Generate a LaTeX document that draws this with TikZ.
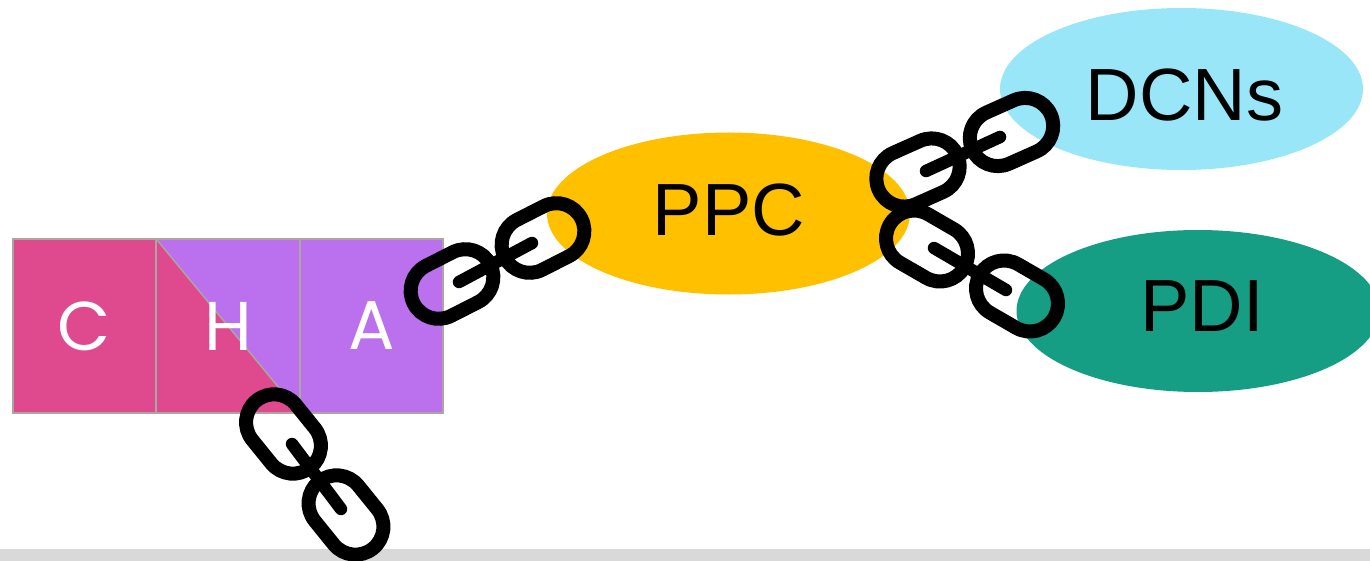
\documentclass[tikz,border=0pt]{standalone}
\usepackage{fontspec}
\setmainfont{Liberation Sans}
\newfontfamily\cellfont{Poppins}
\usepackage{tikz}
\usetikzlibrary{shapes.geometric, shapes.misc}

\definecolor{pinkcell}{HTML}{DF4A8F}
\definecolor{purplecell}{HTML}{BB70EE}
\definecolor{cellline}{HTML}{ADA59F}
\definecolor{ppcfill}{HTML}{FFC000}
\definecolor{dcnfill}{HTML}{99E6F9}
\definecolor{pdifill}{HTML}{169E84}
\definecolor{footer}{HTML}{D9D9D9}

\tikzset{
  blob/.style={ellipse, minimum width=363pt, minimum height=162pt, inner sep=0pt},
  bloblabel/.style={inner sep=0pt, font=\fontsize{74}{80}\selectfont},
  cell/.style={draw=cellline, line width=2pt, minimum width=143.5pt, minimum height=174pt,
    inner sep=0pt, text=white, font=\cellfont\fontsize{69}{74}\selectfont},
  chainlink/.style={draw=black, line width=14pt, rounded rectangle,
    minimum width=86pt, minimum height=56pt, inner sep=0pt},
  chainbar/.style={draw=black, line width=12.5pt, line cap=round}
}

\begin{document}
\begin{tikzpicture}[x=1pt, y=-1pt]
  \useasboundingbox (0,0) rectangle (1370,561);
  \fill[footer] (0,549) rectangle (1370,561);

  \node[blob, fill=ppcfill] (PPC) at (728.5,213.5) {};
  \node[blob, fill=dcnfill] (DCN) at (1181.5,89) {};
  \node[blob, fill=pdifill] (PDI) at (1198,311) {};
  \node[bloblabel] (PPCtext) at (729,210) {PPC};
  \node[bloblabel] (DCNtext) at (1184.5,95) {DCNs};
  \node[bloblabel] (PDItext) at (1202,306) {PDI};

  \node[cell, fill=pinkcell] (C) at (84.5,326) {C};
  \node[cell, fill=purplecell, path picture={
    \fill[pinkcell] (path picture bounding box.north west) -- (path picture bounding box.south west)
      -- (path picture bounding box.south east) -- cycle;
    \draw[cellline, line width=1.5pt] (path picture bounding box.north west) -- (path picture bounding box.south east);
  }] (H) at (228,326) {H};
  \node[cell, fill=purplecell] (A) at (371.5,326) {A};

  % cha to ppc
  \node[chainlink, rotate=27] (La) at (452,284) {};
  \node[chainlink, rotate=27] (Lb) at (543,238) {};
  \coordinate (Ba) at (459,282);
  \coordinate (Bb) at (532,243);
  \draw[chainbar] (Ba) to (Bb);

  % ppc to dcns
  \node[chainlink, rotate=24] (Lc) at (918,172.5) {};
  \node[chainlink, rotate=24] (Ld) at (1011.5,132) {};
  \coordinate (Bc) at (926,171);
  \coordinate (Bd) at (1000,137);
  \draw[chainbar] (Bc) to (Bd);

  % ppc to pdi
  \node[chainlink, rotate=-30] (Le) at (927,246) {};
  \node[chainlink, rotate=-30] (Lf) at (1017,296) {};
  \coordinate (Be) at (934,248);
  \coordinate (Bf) at (1006,290);
  \draw[chainbar] (Be) to (Bf);

  % loose end under H
  \node[chainlink, rotate=-51] (Lg) at (283.5,434) {};
  \node[chainlink, rotate=-51] (Lh) at (346,515) {};
  \coordinate (Bg) at (292,444);
  \coordinate (Bh) at (341,509);
  \draw[chainbar] (Bg) to (Bh);
\end{tikzpicture}
\end{document}
